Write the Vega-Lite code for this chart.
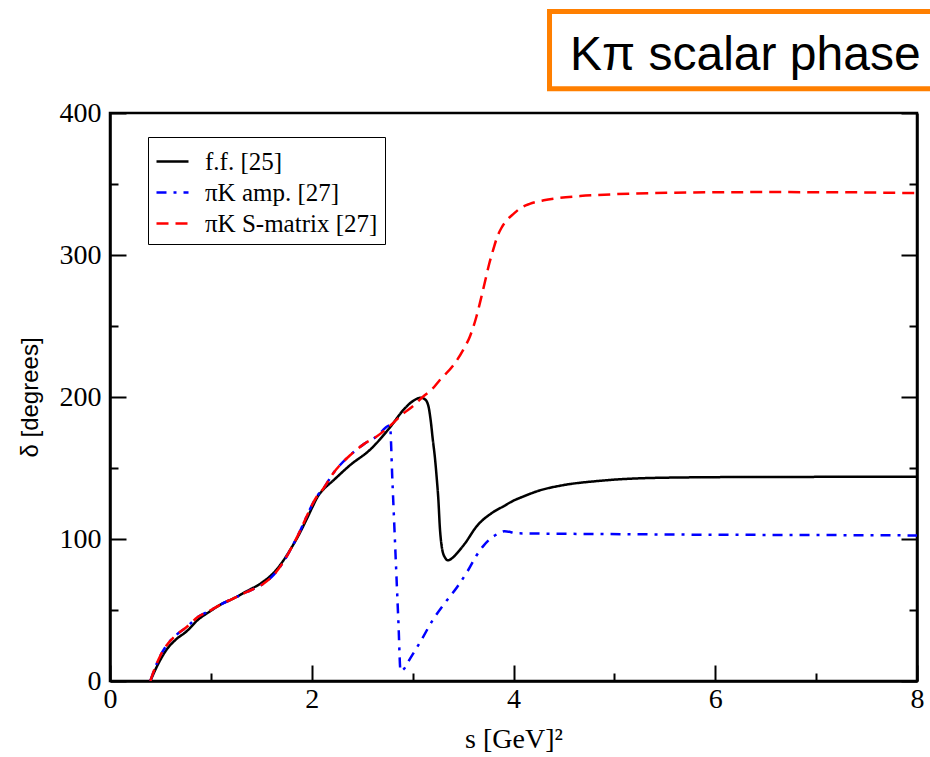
{
  "$schema": "https://vega.github.io/schema/vega-lite/v6.json",
  "width": 807,
  "height": 568,
  "autosize": {"type": "none"},
  "padding": {"left": 110, "top": 113, "right": 13, "bottom": 76},
  "background": "white",
  "config": {
    "view": {"stroke": "black", "strokeWidth": 2.5},
    "axis": {
      "domainColor": "black", "domainWidth": 2.5, "tickColor": "black", "tickWidth": 2,
      "labelFont": "Liberation Serif", "labelFontSize": 28, "labelColor": "black",
      "grid": false, "titleColor": "black", "titleFontWeight": "normal"
    }
  },
  "datasets": {
    "curves": [
      {"s": 0.40, "d": 0, "series": "f.f. [25]"},
      {"s": 0.45, "d": 8, "series": "f.f. [25]"},
      {"s": 0.50, "d": 15, "series": "f.f. [25]"},
      {"s": 0.56, "d": 22, "series": "f.f. [25]"},
      {"s": 0.65, "d": 29, "series": "f.f. [25]"},
      {"s": 0.76, "d": 35, "series": "f.f. [25]"},
      {"s": 0.87, "d": 43, "series": "f.f. [25]"},
      {"s": 0.99, "d": 49, "series": "f.f. [25]"},
      {"s": 1.10, "d": 54, "series": "f.f. [25]"},
      {"s": 1.22, "d": 58, "series": "f.f. [25]"},
      {"s": 1.35, "d": 63, "series": "f.f. [25]"},
      {"s": 1.52, "d": 70, "series": "f.f. [25]"},
      {"s": 1.62, "d": 76, "series": "f.f. [25]"},
      {"s": 1.72, "d": 85, "series": "f.f. [25]"},
      {"s": 1.80, "d": 94, "series": "f.f. [25]"},
      {"s": 1.88, "d": 104, "series": "f.f. [25]"},
      {"s": 1.95, "d": 114, "series": "f.f. [25]"},
      {"s": 2.01, "d": 123, "series": "f.f. [25]"},
      {"s": 2.06, "d": 130, "series": "f.f. [25]"},
      {"s": 2.11, "d": 134.5, "series": "f.f. [25]"},
      {"s": 2.21, "d": 141, "series": "f.f. [25]"},
      {"s": 2.38, "d": 152, "series": "f.f. [25]"},
      {"s": 2.58, "d": 163, "series": "f.f. [25]"},
      {"s": 2.78, "d": 179, "series": "f.f. [25]"},
      {"s": 2.91, "d": 191, "series": "f.f. [25]"},
      {"s": 3.00, "d": 197, "series": "f.f. [25]"},
      {"s": 3.08, "d": 199.5, "series": "f.f. [25]"},
      {"s": 3.12, "d": 198.5, "series": "f.f. [25]"},
      {"s": 3.155, "d": 194, "series": "f.f. [25]"},
      {"s": 3.18, "d": 183, "series": "f.f. [25]"},
      {"s": 3.20, "d": 170, "series": "f.f. [25]"},
      {"s": 3.22, "d": 158, "series": "f.f. [25]"},
      {"s": 3.24, "d": 142, "series": "f.f. [25]"},
      {"s": 3.255, "d": 128, "series": "f.f. [25]"},
      {"s": 3.27, "d": 108, "series": "f.f. [25]"},
      {"s": 3.29, "d": 94, "series": "f.f. [25]"},
      {"s": 3.32, "d": 87, "series": "f.f. [25]"},
      {"s": 3.35, "d": 85, "series": "f.f. [25]"},
      {"s": 3.40, "d": 87, "series": "f.f. [25]"},
      {"s": 3.44, "d": 90, "series": "f.f. [25]"},
      {"s": 3.52, "d": 97, "series": "f.f. [25]"},
      {"s": 3.63, "d": 108.5, "series": "f.f. [25]"},
      {"s": 3.80, "d": 119, "series": "f.f. [25]"},
      {"s": 3.90, "d": 123, "series": "f.f. [25]"},
      {"s": 4.00, "d": 127, "series": "f.f. [25]"},
      {"s": 4.10, "d": 130, "series": "f.f. [25]"},
      {"s": 4.25, "d": 134, "series": "f.f. [25]"},
      {"s": 4.46, "d": 137.5, "series": "f.f. [25]"},
      {"s": 4.86, "d": 141, "series": "f.f. [25]"},
      {"s": 5.52, "d": 143.2, "series": "f.f. [25]"},
      {"s": 6.50, "d": 143.7, "series": "f.f. [25]"},
      {"s": 8.00, "d": 143.8, "series": "f.f. [25]"},

      {"s": 0.40, "d": 0, "series": "πK amp. [27]"},
      {"s": 0.45, "d": 10, "series": "πK amp. [27]"},
      {"s": 0.50, "d": 18, "series": "πK amp. [27]"},
      {"s": 0.56, "d": 25, "series": "πK amp. [27]"},
      {"s": 0.65, "d": 32, "series": "πK amp. [27]"},
      {"s": 0.76, "d": 38, "series": "πK amp. [27]"},
      {"s": 0.87, "d": 45, "series": "πK amp. [27]"},
      {"s": 0.99, "d": 49.5, "series": "πK amp. [27]"},
      {"s": 1.10, "d": 54, "series": "πK amp. [27]"},
      {"s": 1.22, "d": 58, "series": "πK amp. [27]"},
      {"s": 1.35, "d": 62.5, "series": "πK amp. [27]"},
      {"s": 1.52, "d": 68.5, "series": "πK amp. [27]"},
      {"s": 1.62, "d": 74.5, "series": "πK amp. [27]"},
      {"s": 1.72, "d": 84, "series": "πK amp. [27]"},
      {"s": 1.80, "d": 94, "series": "πK amp. [27]"},
      {"s": 1.88, "d": 105, "series": "πK amp. [27]"},
      {"s": 1.95, "d": 116, "series": "πK amp. [27]"},
      {"s": 2.01, "d": 125, "series": "πK amp. [27]"},
      {"s": 2.06, "d": 131, "series": "πK amp. [27]"},
      {"s": 2.11, "d": 135, "series": "πK amp. [27]"},
      {"s": 2.21, "d": 146, "series": "πK amp. [27]"},
      {"s": 2.38, "d": 159, "series": "πK amp. [27]"},
      {"s": 2.52, "d": 167, "series": "πK amp. [27]"},
      {"s": 2.64, "d": 172, "series": "πK amp. [27]"},
      {"s": 2.775, "d": 180, "series": "πK amp. [27]"},
      {"s": 2.80, "d": 140, "series": "πK amp. [27]"},
      {"s": 2.83, "d": 90, "series": "πK amp. [27]"},
      {"s": 2.86, "d": 40, "series": "πK amp. [27]"},
      {"s": 2.88, "d": 7, "series": "πK amp. [27]"},
      {"s": 2.92, "d": 9, "series": "πK amp. [27]"},
      {"s": 2.96, "d": 14, "series": "πK amp. [27]"},
      {"s": 3.08, "d": 28, "series": "πK amp. [27]"},
      {"s": 3.20, "d": 43, "series": "πK amp. [27]"},
      {"s": 3.32, "d": 55, "series": "πK amp. [27]"},
      {"s": 3.44, "d": 66, "series": "πK amp. [27]"},
      {"s": 3.55, "d": 78, "series": "πK amp. [27]"},
      {"s": 3.63, "d": 88, "series": "πK amp. [27]"},
      {"s": 3.70, "d": 95, "series": "πK amp. [27]"},
      {"s": 3.76, "d": 99.5, "series": "πK amp. [27]"},
      {"s": 3.84, "d": 103.5, "series": "πK amp. [27]"},
      {"s": 3.91, "d": 105.5, "series": "πK amp. [27]"},
      {"s": 4.04, "d": 104, "series": "πK amp. [27]"},
      {"s": 4.86, "d": 103.5, "series": "πK amp. [27]"},
      {"s": 6.00, "d": 103, "series": "πK amp. [27]"},
      {"s": 7.00, "d": 102.8, "series": "πK amp. [27]"},
      {"s": 8.00, "d": 102.5, "series": "πK amp. [27]"},

      {"s": 0.40, "d": 0, "series": "πK S-matrix [27]"},
      {"s": 0.45, "d": 10, "series": "πK S-matrix [27]"},
      {"s": 0.50, "d": 18, "series": "πK S-matrix [27]"},
      {"s": 0.56, "d": 25, "series": "πK S-matrix [27]"},
      {"s": 0.65, "d": 32, "series": "πK S-matrix [27]"},
      {"s": 0.76, "d": 38, "series": "πK S-matrix [27]"},
      {"s": 0.87, "d": 45, "series": "πK S-matrix [27]"},
      {"s": 0.99, "d": 49.5, "series": "πK S-matrix [27]"},
      {"s": 1.10, "d": 54, "series": "πK S-matrix [27]"},
      {"s": 1.22, "d": 58, "series": "πK S-matrix [27]"},
      {"s": 1.35, "d": 62.5, "series": "πK S-matrix [27]"},
      {"s": 1.52, "d": 68.5, "series": "πK S-matrix [27]"},
      {"s": 1.62, "d": 74.5, "series": "πK S-matrix [27]"},
      {"s": 1.72, "d": 84, "series": "πK S-matrix [27]"},
      {"s": 1.80, "d": 94, "series": "πK S-matrix [27]"},
      {"s": 1.88, "d": 105, "series": "πK S-matrix [27]"},
      {"s": 1.95, "d": 116, "series": "πK S-matrix [27]"},
      {"s": 2.01, "d": 125, "series": "πK S-matrix [27]"},
      {"s": 2.06, "d": 131, "series": "πK S-matrix [27]"},
      {"s": 2.11, "d": 135, "series": "πK S-matrix [27]"},
      {"s": 2.21, "d": 146, "series": "πK S-matrix [27]"},
      {"s": 2.38, "d": 159, "series": "πK S-matrix [27]"},
      {"s": 2.52, "d": 167, "series": "πK S-matrix [27]"},
      {"s": 2.64, "d": 172, "series": "πK S-matrix [27]"},
      {"s": 2.78, "d": 180, "series": "πK S-matrix [27]"},
      {"s": 2.90, "d": 188, "series": "πK S-matrix [27]"},
      {"s": 3.01, "d": 194, "series": "πK S-matrix [27]"},
      {"s": 3.10, "d": 200, "series": "πK S-matrix [27]"},
      {"s": 3.20, "d": 206, "series": "πK S-matrix [27]"},
      {"s": 3.27, "d": 212, "series": "πK S-matrix [27]"},
      {"s": 3.40, "d": 222, "series": "πK S-matrix [27]"},
      {"s": 3.50, "d": 233, "series": "πK S-matrix [27]"},
      {"s": 3.57, "d": 243, "series": "πK S-matrix [27]"},
      {"s": 3.63, "d": 256, "series": "πK S-matrix [27]"},
      {"s": 3.68, "d": 270, "series": "πK S-matrix [27]"},
      {"s": 3.72, "d": 282, "series": "πK S-matrix [27]"},
      {"s": 3.76, "d": 294, "series": "πK S-matrix [27]"},
      {"s": 3.80, "d": 304, "series": "πK S-matrix [27]"},
      {"s": 3.84, "d": 313, "series": "πK S-matrix [27]"},
      {"s": 3.88, "d": 319, "series": "πK S-matrix [27]"},
      {"s": 3.94, "d": 325, "series": "πK S-matrix [27]"},
      {"s": 4.00, "d": 329, "series": "πK S-matrix [27]"},
      {"s": 4.08, "d": 333.5, "series": "πK S-matrix [27]"},
      {"s": 4.16, "d": 336, "series": "πK S-matrix [27]"},
      {"s": 4.30, "d": 338.5, "series": "πK S-matrix [27]"},
      {"s": 4.43, "d": 340, "series": "πK S-matrix [27]"},
      {"s": 4.66, "d": 341.5, "series": "πK S-matrix [27]"},
      {"s": 5.00, "d": 342.8, "series": "πK S-matrix [27]"},
      {"s": 5.52, "d": 343.8, "series": "πK S-matrix [27]"},
      {"s": 6.51, "d": 344.3, "series": "πK S-matrix [27]"},
      {"s": 7.20, "d": 344.2, "series": "πK S-matrix [27]"},
      {"s": 8.00, "d": 343.6, "series": "πK S-matrix [27]"}
    ]
  },
  "layer": [
    {
      "data": {"name": "curves"},
      "mark": {"type": "line", "strokeWidth": 2.5, "interpolate": "monotone", "clip": true},
      "encoding": {
        "x": {
          "field": "s", "type": "quantitative",
          "scale": {"domain": [0, 8], "nice": false, "zero": false},
          "axis": {
            "title": "s [GeV]²", "titleFont": "Liberation Serif", "titleFontSize": 28,
            "titlePadding": 12,
            "values": [0, 1, 2, 3, 4, 5, 6, 7, 8],
            "format": "d",
            "labelExpr": "datum.value % 2 === 0 ? datum.label : ''",
            "labelFont": "Liberation Serif",
            "labelFontSize": 28,
            "labelFlush": false,
            "labelPadding": 20,
            "tickSize": -16,
            "tickDash": {"condition": {"test": "datum.value % 2 === 0", "value": [16, 0]}, "value": [8, 40]}
          }
        },
        "y": {
          "field": "d", "type": "quantitative",
          "scale": {"domain": [0, 400], "nice": false},
          "axis": {
            "orient": "left",
            "title": "δ [degrees]", "titleFont": "Liberation Sans", "titleFontSize": 24,
            "titlePadding": 17,
            "values": [0, 50, 100, 150, 200, 250, 300, 350, 400],
            "labelExpr": "datum.value % 100 === 0 ? datum.label : ''",
            "labelFont": "Liberation Serif",
            "labelFontSize": 28,
            "labelPadding": 25,
            "tickSize": -16,
            "tickDash": {"condition": {"test": "datum.value % 100 === 0", "value": [16, 0]}, "value": [8, 40]}
          }
        },
        "color": {
          "field": "series", "type": "nominal",
          "scale": {"domain": ["f.f. [25]", "πK amp. [27]", "πK S-matrix [27]"], "range": ["#000000", "#0000ff", "#ff0000"]},
          "legend": {
            "orient": "none", "legendX": 38, "legendY": 24, "title": null,
            "symbolType": "stroke", "symbolSize": 1024, "symbolStrokeWidth": 2.5,
            "labelFont": "Liberation Serif", "labelFontSize": 25, "labelColor": "black",
            "labelOffset": 15, "labelLimit": 500, "rowPadding": 0, "padding": 7,
            "strokeColor": "black", "fillColor": "white"
          }
        },
        "strokeDash": {
          "field": "series", "type": "nominal",
          "scale": {"domain": ["f.f. [25]", "πK amp. [27]", "πK S-matrix [27]"], "range": [[1, 0], [10, 7, 3, 7], [12, 7]]},
          "legend": {
            "orient": "none", "legendX": 38, "legendY": 24, "title": null,
            "symbolType": "stroke", "symbolSize": 1024, "symbolStrokeWidth": 2.5,
            "labelFont": "Liberation Serif", "labelFontSize": 25, "labelColor": "black",
            "labelOffset": 15, "labelLimit": 500, "rowPadding": 0, "padding": 7,
            "strokeColor": "black", "fillColor": "white"
          }
        }
      }
    },
    {
      "data": {"values": [{}]},
      "mark": {"type": "rect", "fill": "transparent", "stroke": "#ff7f00", "strokeWidth": 5, "clip": false},
      "encoding": {
        "x": {"datum": 4.357, "type": "quantitative", "scale": {"domain": [0, 8], "nice": false, "zero": false}, "axis": null},
        "x2": {"datum": 8.4},
        "y": {
          "datum": 417, "type": "quantitative",
          "scale": {"domain": [0, 400], "nice": false},
          "axis": {
            "orient": "right", "title": null, "labels": false,
            "values": [0, 50, 100, 150, 200, 250, 300, 350, 400],
            "tickSize": -16,
            "tickDash": {"condition": {"test": "datum.value % 100 === 0", "value": [16, 0]}, "value": [8, 40]}
          }
        },
        "y2": {"datum": 471.5}
      }
    },
    {
      "data": {"values": [{}]},
      "mark": {"type": "text", "text": "Kπ scalar phase", "font": "Liberation Sans", "fontSize": 48, "align": "left", "baseline": "alphabetic", "color": "black", "clip": false},
      "encoding": {
        "x": {"datum": 4.56, "type": "quantitative", "scale": {"domain": [0, 8], "nice": false, "zero": false}, "axis": null},
        "y": {"datum": 430.3, "type": "quantitative", "scale": {"domain": [0, 400], "nice": false}, "axis": null}
      }
    }
  ],
  "resolve": {
    "scale": {"x": "independent", "y": "independent"},
    "axis": {"x": "independent", "y": "independent"}
  }
}
